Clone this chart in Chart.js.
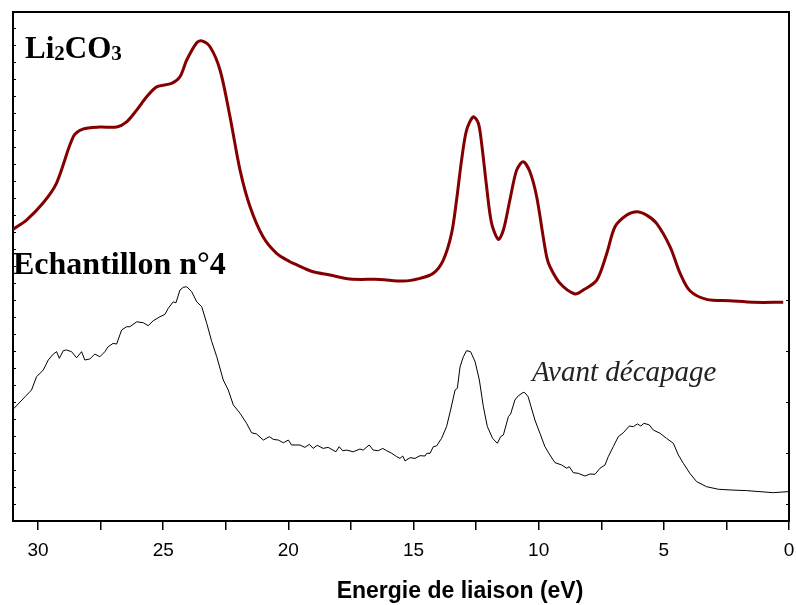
<!DOCTYPE html>
<html>
<head>
<meta charset="utf-8">
<title>Li2CO3 / Echantillon n°4</title>
<script src="https://cdn.jsdelivr.net/npm/chart.js@4/dist/chart.umd.min.js"></script>
<style>
  html, body { margin: 0; padding: 0; background: #fff; }
  canvas { display: block; }
</style>
</head>
<body>
<canvas id="xpsChart" width="796" height="605"></canvas>
<script>
// energie de liaison (eV) et intensite (u.a.)
const li2co3Energy = [31.0, 30.46, 29.80, 29.26, 28.59, 28.21, 27.53, 26.86, 26.46, 26.06, 25.66, 25.26,
  24.66, 24.33, 24.06, 23.66, 23.46, 23.13, 22.73, 22.33, 21.93, 21.53, 21.01, 20.47, 19.94, 19.80,
  19.01, 18.34, 17.54, 16.34, 15.41, 14.74, 14.21, 13.81, 13.48, 13.28, 13.08, 12.88, 12.61, 12.41,
  12.28, 12.08, 11.88, 11.61, 11.41, 11.15, 10.88, 10.62, 10.35, 10.08, 9.82, 9.68, 9.55, 9.15, 8.55,
  8.22, 7.68, 7.28, 6.95, 6.48, 6.08, 5.69, 5.29, 4.75, 4.35, 3.96, 3.29, 2.36, 1.43, 0.23];
const li2co3Intensity = [17.19, 17.74, 18.74, 19.92, 22.65, 23.10, 23.22, 23.22, 23.53, 24.22, 25.00, 25.59,
  25.79, 26.18, 27.17, 28.19, 28.30, 27.95, 26.58, 23.82, 20.68, 18.52, 16.75, 15.77, 15.28, 15.19,
  14.69, 14.50, 14.26, 14.24, 14.14, 14.30, 14.60, 15.38, 16.95, 18.92, 21.27, 23.04, 23.82, 23.44,
  22.26, 19.70, 17.54, 16.60, 17.15, 18.92, 20.68, 21.17, 20.58, 19.11, 16.75, 15.57, 14.99, 14.01, 13.38,
  13.61, 14.20, 15.77, 17.34, 18.03, 18.23, 18.03, 17.54, 16.16, 14.60, 13.57, 13.06, 12.98, 12.89, 12.89];

const echEnergy = [31.0, 30.52, 30.26, 30.06, 29.79, 29.59, 29.39, 29.26, 29.15, 28.99, 28.86, 28.66,
  28.46, 28.26, 28.13, 27.93, 27.73, 27.53, 27.33, 27.20, 27.00, 26.86, 26.66, 26.46, 26.33, 26.06,
  25.80, 25.60, 25.40, 25.13, 24.93, 24.80, 24.60, 24.49, 24.33, 24.20, 24.06, 23.86, 23.66, 23.46,
  23.26, 23.06, 22.86, 22.60, 22.40, 22.20, 21.93, 21.67, 21.47, 21.27, 21.00, 20.76, 20.60, 20.40,
  20.20, 20.00, 19.87, 19.54, 19.34, 19.16, 19.01, 18.85, 18.61, 18.41, 18.10, 17.97, 17.83, 17.67,
  17.41, 17.14, 17.01, 16.77, 16.61, 16.41, 16.23, 16.07, 15.87, 15.67, 15.54, 15.43, 15.34, 15.14,
  14.94, 14.74, 14.54, 14.47, 14.34, 14.21, 14.08, 13.88, 13.68, 13.52, 13.34, 13.25, 13.14, 13.01,
  12.88, 12.72, 12.54, 12.37, 12.21, 12.05, 11.84, 11.65, 11.52, 11.41, 11.21, 11.12, 10.95, 10.82,
  10.62, 10.55, 10.42, 10.15, 9.95, 9.75, 9.55, 9.35, 9.08, 8.88, 8.78, 8.62, 8.42, 8.15, 7.95, 7.75,
  7.55, 7.35, 7.22, 7.02, 6.82, 6.62, 6.38, 6.22, 6.06, 5.92, 5.79, 5.58, 5.42, 5.15, 4.89, 4.62,
  4.42, 4.22, 3.96, 3.69, 3.29, 2.82, 2.36, 1.69, 1.16, 0.63, 0.03];
const echIntensity = [6.58, 7.32, 7.72, 8.50, 8.90, 9.49, 9.84, 9.98, 9.59, 10.04, 10.08, 9.98,
  9.62, 9.98, 9.49, 9.55, 9.84, 9.68, 9.98, 10.27, 10.47, 10.43, 11.26, 11.45, 11.45, 11.74,
  11.69, 11.51, 11.80, 12.04, 12.18, 12.53, 12.92, 12.86, 13.61, 13.77, 13.81, 13.51, 12.92, 12.63,
  11.65, 10.57, 9.68, 8.31, 7.72, 6.84, 6.35, 5.76, 5.20, 5.13, 4.77, 4.97, 4.81, 4.77,
  4.61, 4.77, 4.48, 4.48, 4.34, 4.52, 4.28, 4.46, 4.28, 4.34, 4.08, 4.38, 4.14, 4.18,
  4.08, 4.24, 4.18, 4.48, 4.18, 4.14, 4.28, 4.14, 3.99, 3.79, 3.69, 3.83, 3.54, 3.73,
  3.69, 3.85, 3.83, 3.99, 3.99, 4.38, 4.42, 4.87, 5.56, 6.54, 7.72, 7.82, 9.09, 9.68,
  10.04, 9.98, 9.39, 8.31, 6.74, 5.56, 4.87, 4.58, 4.97, 5.07, 6.15, 6.31, 7.13, 7.37,
  7.58, 7.56, 7.32, 5.95, 5.17, 4.38, 3.89, 3.44, 3.30, 3.11, 3.20, 2.85, 2.81, 2.65, 2.77, 2.75,
  3.11, 3.30, 3.79, 4.38, 4.97, 5.20, 5.60, 5.56, 5.72, 5.60, 5.76, 5.66, 5.36, 5.17, 4.87, 4.58,
  3.89, 3.40, 2.81, 2.32, 2.02, 1.87, 1.83, 1.79, 1.73, 1.67, 1.73];

const energyTicks = [0, 5, 10, 15, 20, 25, 30];

const toPoints = (xs, ys) => xs.map((x, i) => ({ x: x, y: ys[i] }));

// textes poses sur le graphique
const annotations = {
  id: 'annotations',
  afterDraw(chart) {
    const ctx = chart.ctx;
    ctx.save();
    ctx.fillStyle = '#000';
    ctx.textAlign = 'left';
    ctx.textBaseline = 'alphabetic';

    // Li2CO3 avec indices
    let x = 25;
    const parts = [['Li', false], ['2', true], ['CO', false], ['3', true]];
    parts.forEach(([t, sub]) => {
      ctx.font = sub ? 'bold 21px "Liberation Serif"' : 'bold 31px "Liberation Serif"';
      ctx.fillText(t, x, sub ? 60 : 58);
      x += ctx.measureText(t).width;
    });

    ctx.font = 'bold 32px "Liberation Serif"';
    ctx.fillText('Echantillon n°4', 13, 274);

    ctx.fillStyle = '#222';
    ctx.font = 'italic 29px "Liberation Serif"';
    ctx.fillText('Avant décapage', 532, 381);

    // titre de l'axe
    ctx.fillStyle = '#000';
    ctx.textAlign = 'center';
    ctx.font = 'bold 23px "Liberation Sans"';
    ctx.fillText('Energie de liaison (eV)', 460, 598);
    ctx.restore();
  }
};

const ctx = document.getElementById('xpsChart').getContext('2d');

new Chart(ctx, {
  type: 'line',
  data: {
    datasets: [
      {
        label: 'Li2CO3',
        data: toPoints(li2co3Energy, li2co3Intensity),
        borderColor: '#840000',
        borderWidth: 3,
        pointRadius: 0,
        tension: 0.3,
        fill: false
      },
      {
        label: 'Echantillon n°4',
        data: toPoints(echEnergy, echIntensity),
        borderColor: '#000',
        borderWidth: 1,
        pointRadius: 0,
        tension: 0,
        fill: false
      }
    ]
  },
  options: {
    responsive: false,
    animation: false,
    layout: { padding: { left: 13, right: 7, top: 12, bottom: 0 } },
    plugins: {
      legend: { display: false },
      tooltip: { enabled: false }
    },
    scales: {
      x: {
        type: 'linear',
        position: 'bottom',
        reverse: true,
        min: 0,
        max: 31,
        afterBuildTicks: s => { s.ticks = s.ticks.filter(t => t.value % 2.5 === 0); },
        afterFit: s => { s.height = 84; s.paddingLeft = 0; s.paddingRight = 0; },
        ticks: {
          stepSize: 2.5,
          includeBounds: false,
          autoSkip: false,
          maxRotation: 0,
          padding: 9,
          color: '#000',
          font: { family: '"Liberation Sans"', size: 19 },
          callback: v => (energyTicks.includes(v) ? String(v) : '')
        },
        grid: { drawOnChartArea: false, tickLength: 9, color: '#000', lineWidth: 1.5 },
        border: { display: true, color: '#000', width: 2 }
      },
      xTop: {
        type: 'linear',
        position: 'top',
        reverse: true,
        min: 0,
        max: 31,
        afterFit: s => { s.height = 0; s.paddingLeft = 0; s.paddingRight = 0; },
        ticks: { display: false },
        grid: { display: false },
        border: { display: true, color: '#000', width: 2 }
      },
      y: {
        position: 'left',
        min: 0,
        max: 30,
        afterFit: s => { s.width = 0; },
        ticks: { display: false, stepSize: 1 },
        grid: { drawOnChartArea: false, tickLength: -3, color: '#000', lineWidth: 1 },
        border: { display: true, color: '#000', width: 2 }
      },
      yRight: {
        position: 'right',
        min: 0,
        max: 30,
        afterFit: s => { s.width = 0; },
        ticks: { display: false, stepSize: 1 },
        grid: {
          drawOnChartArea: false,
          tickLength: -3,
          lineWidth: 1,
          color: c => (c.tick && c.tick.value <= 14 && c.tick.value % 3 === 1 ? '#000' : 'rgba(0,0,0,0)')
        },
        border: { display: true, color: '#000', width: 2 }
      }
    }
  },
  plugins: [annotations]
});
</script>
</body>
</html>
